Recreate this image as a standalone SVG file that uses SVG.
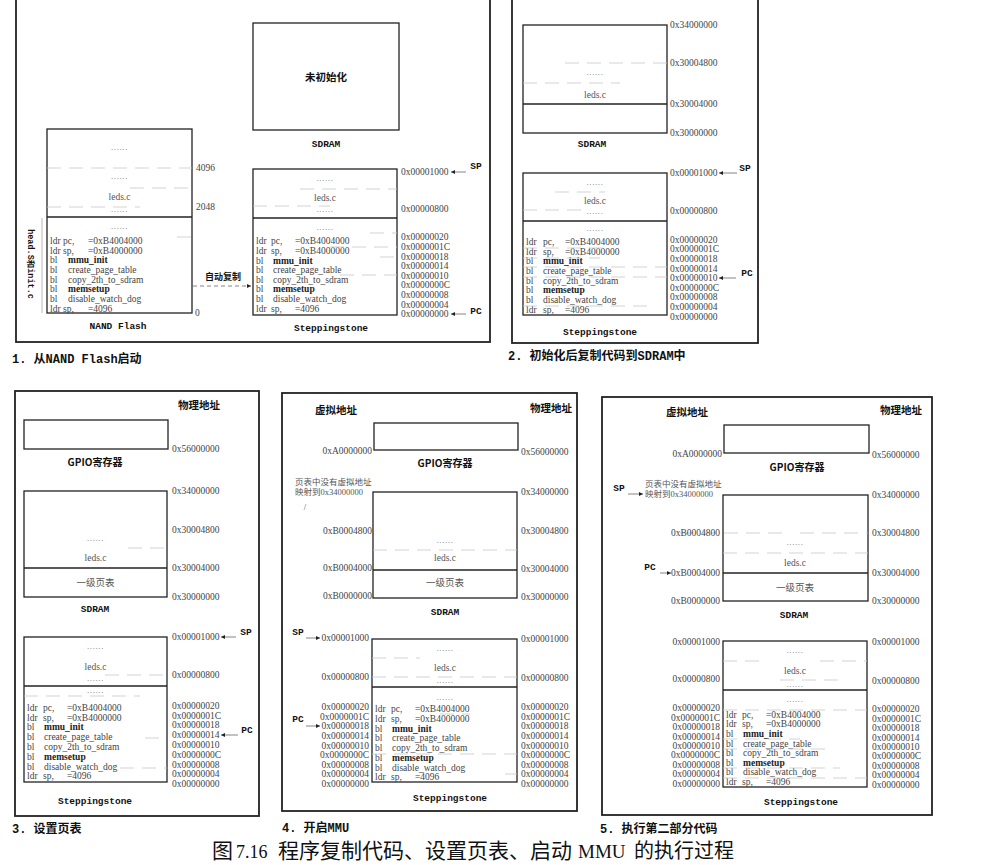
<svg xmlns="http://www.w3.org/2000/svg" width="988" height="865" viewBox="0 0 988 865">
<defs>
<style>
.frame{fill:none;stroke:#222;stroke-width:1.8}
.box{fill:#fff;stroke:#222;stroke-width:1.3}
.dv{stroke:#222;stroke-width:1.3}
.dash{stroke:#c8c8c8;stroke-width:0.8;stroke-dasharray:14 8;fill:none}
.thin{stroke:#999;stroke-width:0.7;fill:none}
.arr{stroke:#666;stroke-width:0.8;fill:none;marker-end:url(#ah)}
.addr{font-family:"Liberation Serif",serif;font-size:9.5px;fill:#444}
.al{font-family:"Liberation Serif",serif;font-size:9.5px;fill:#444;text-anchor:end}
.code{font-family:"Liberation Serif",serif;font-size:9.5px;fill:#444}
.cb{font-weight:bold;fill:#222}
.dots{font-family:"Liberation Serif",serif;font-size:9px;letter-spacing:0.6px;fill:#777;text-anchor:middle}
.in{font-family:"Liberation Serif","Noto Sans CJK SC",serif;font-size:9.5px;fill:#555;text-anchor:middle}
.lbl{font-family:"Liberation Mono","Noto Sans CJK SC",monospace;font-weight:bold;font-size:9.5px;fill:#111;text-anchor:middle}
.cjk{font-family:"Noto Sans CJK SC",sans-serif;font-weight:bold;font-size:10px;fill:#111}
.cap{font-family:"Liberation Mono","Noto Sans CJK SC",monospace;font-weight:bold;font-size:12px;fill:#111}
.note{font-family:"Liberation Serif","Noto Sans CJK SC",serif;font-size:8.5px;fill:#555}
.fig{font-family:"Liberation Serif","Noto Sans CJK SC",serif;font-size:21px;fill:#111}
</style>
<marker id="ah" viewBox="0 0 6 6" refX="6" refY="3" markerWidth="5" markerHeight="5" orient="auto"><path d="M0,0 L6,3 L0,6z" fill="#222"/></marker>
</defs>
<rect width="988" height="865" fill="#fff"/>

<!-- ================= PANEL 1 ================= -->
<g id="panel1">
<rect class="frame" x="16" y="-10" width="474" height="352"/>
<text class="cap" x="12" y="363">1. 从NAND Flash启动</text>
</g>

<g id="nand-flash">
<rect class="box" x="47" y="129" width="145" height="184"/>
<line class="dv" x1="47" y1="217" x2="192" y2="217"/>
<line class="thin" x1="42" y1="218" x2="42" y2="313"/>
<text class="dots" x="119.5" y="150">......</text>
<text class="dots" x="119.5" y="179">......</text>
<text class="in" x="119.5" y="200">leds.c</text>
<text class="dots" x="119.5" y="212">......</text>
<text class="dots" x="119.5" y="229">......</text>
<line class="dash" x1="47" y1="168" x2="192" y2="168"/>
<line class="dash" x1="130" y1="188" x2="192" y2="188"/>
<line class="dash" x1="47" y1="207" x2="140" y2="207"/>
<line class="dash" x1="177" y1="237" x2="192" y2="237"/>
<text class="addr" x="196" y="171">4096</text>
<text class="addr" x="196" y="210">2048</text>
<text class="addr" x="195" y="316">0</text>
<text class="code" y="243.8"><tspan x="50">ldr</tspan><tspan x="63">pc,</tspan><tspan x="88">=0xB4004000</tspan></text>
<text class="code" y="253.5"><tspan x="50">ldr</tspan><tspan x="63">sp,</tspan><tspan x="88">=0xB4000000</tspan></text>
<text class="code" y="263.2"><tspan x="50">bl</tspan><tspan x="68" class="cb">mmu_init</tspan></text>
<text class="code" y="272.9"><tspan x="50">bl</tspan><tspan x="68">create_page_table</tspan></text>
<text class="code" y="282.6"><tspan x="50">bl</tspan><tspan x="68">copy_2th_to_sdram</tspan></text>
<text class="code" y="292.3"><tspan x="50">bl</tspan><tspan x="68" class="cb">memsetup</tspan></text>
<text class="code" y="302.0"><tspan x="50">bl</tspan><tspan x="68">disable_watch_dog</tspan></text>
<text class="code" y="311.7"><tspan x="50">ldr</tspan><tspan x="63">sp,</tspan><tspan x="88">=4096</tspan></text>
<text class="lbl" x="118" y="329">NAND Flash</text>
<text class="lbl" transform="translate(28,264) rotate(90)" style="font-size:8.5px">head.S和init.c</text>
</g>

<g id="p1-sdram">
<rect class="box" x="253" y="23" width="146" height="107"/>
<text class="cjk" x="326" y="81" text-anchor="middle" style="font-size:10.5px">未初始化</text>
<text class="lbl" x="326" y="147">SDRAM</text>
</g>

<g id="p1-steppingstone">
<rect class="box" x="253" y="169" width="144" height="146"/>
<line class="dv" x1="253" y1="218" x2="397" y2="218"/>
<line class="dash" x1="300" y1="189" x2="397" y2="189"/>
<line class="dash" x1="253" y1="206" x2="330" y2="206"/>
<text class="dots" x="325" y="180.5">......</text>
<text class="in" x="325" y="201">leds.c</text>
<text class="dots" x="325" y="211.5">......</text>
<text class="dots" x="325" y="229.5">......</text>
<text class="code" y="244.3"><tspan x="256">ldr</tspan><tspan x="271">pc,</tspan><tspan x="295">=0xB4004000</tspan></text>
<text class="code" y="253.9"><tspan x="256">ldr</tspan><tspan x="271">sp,</tspan><tspan x="295">=0xB4000000</tspan></text>
<text class="code" y="263.5"><tspan x="256">bl</tspan><tspan x="273" class="cb">mmu_init</tspan></text>
<text class="code" y="273.1"><tspan x="256">bl</tspan><tspan x="273">create_page_table</tspan></text>
<text class="code" y="282.7"><tspan x="256">bl</tspan><tspan x="273">copy_2th_to_sdram</tspan></text>
<text class="code" y="292.3"><tspan x="256">bl</tspan><tspan x="273" class="cb">memsetup</tspan></text>
<text class="code" y="301.9"><tspan x="256">bl</tspan><tspan x="273">disable_watch_dog</tspan></text>
<text class="code" y="311.5"><tspan x="256">ldr</tspan><tspan x="271">sp,</tspan><tspan x="295">=4096</tspan></text>
<line class="dash" x1="370" y1="233" x2="397" y2="233"/>
<line class="dash" x1="330" y1="247" x2="397" y2="247"/>
<line class="dash" x1="380" y1="257" x2="397" y2="257"/>
<line class="dash" x1="340" y1="275" x2="397" y2="275"/>
<text class="addr" x="401" y="175.3">0x00001000</text>
<text class="addr" x="401" y="212.3">0x00000800</text>
<text class="addr" x="401" y="240.3">0x00000020</text>
<text class="addr" x="401" y="249.9">0x0000001C</text>
<text class="addr" x="401" y="259.5">0x00000018</text>
<text class="addr" x="401" y="269.1">0x00000014</text>
<text class="addr" x="401" y="278.7">0x00000010</text>
<text class="addr" x="401" y="288.3">0x0000000C</text>
<text class="addr" x="401" y="297.9">0x00000008</text>
<text class="addr" x="401" y="307.5">0x00000004</text>
<text class="addr" x="401" y="317.1">0x00000000</text>
<text class="lbl" x="476" y="169">SP</text>
<text class="lbl" x="476" y="314">PC</text>
<text class="lbl" x="331" y="331">Steppingstone</text>
</g>
<g id="p1-copy-label">
<text class="cjk" x="205" y="280" style="font-size:9px">自动复制</text>
</g>

<!-- ================= PANEL 2 ================= -->
<g id="panel2">
<rect class="frame" x="512" y="-10" width="246" height="353"/>
<text class="cap" x="508" y="360">2. 初始化后复制代码到SDRAM中</text>
</g>
<g id="p2-sdram">
<rect class="box" x="523" y="25" width="144" height="108"/>
<line class="dv" x1="523" y1="104" x2="667" y2="104"/>
<line class="dash" x1="565" y1="63" x2="667" y2="63"/>
<line class="dash" x1="523" y1="83" x2="620" y2="83"/>
<text class="dots" x="595" y="74.5">......</text>
<text class="in" x="595" y="98">leds.c</text>
<text class="addr" x="670" y="28.3">0x34000000</text>
<text class="addr" x="670" y="66.3">0x30004800</text>
<text class="addr" x="670" y="107.3">0x30004000</text>
<text class="addr" x="670" y="136.3">0x30000000</text>
<text class="lbl" x="592" y="147">SDRAM</text>
</g>
<g id="p2-steppingstone">
<rect class="box" x="523" y="173" width="144" height="142"/>
<line class="dv" x1="523" y1="221" x2="667" y2="221"/>
<line class="dash" x1="555" y1="192" x2="605" y2="192"/>
<line class="dash" x1="523" y1="210" x2="585" y2="210"/>
<text class="dots" x="595" y="184.5">......</text>
<text class="in" x="595" y="204">leds.c</text>
<text class="dots" x="595" y="213.5">......</text>
<text class="dots" x="595" y="230.5">......</text>
<text class="code" y="244.8"><tspan x="526">ldr</tspan><tspan x="543">pc,</tspan><tspan x="565">=0xB4004000</tspan></text>
<text class="code" y="254.5"><tspan x="526">ldr</tspan><tspan x="543">sp,</tspan><tspan x="565">=0xB4000000</tspan></text>
<text class="code" y="264.2"><tspan x="526">bl</tspan><tspan x="543" class="cb">mmu_init</tspan></text>
<text class="code" y="273.9"><tspan x="526">bl</tspan><tspan x="543">create_page_table</tspan></text>
<text class="code" y="283.6"><tspan x="526">bl</tspan><tspan x="543">copy_2th_to_sdram</tspan></text>
<text class="code" y="293.3"><tspan x="526">bl</tspan><tspan x="543" class="cb">memsetup</tspan></text>
<text class="code" y="303.0"><tspan x="526">bl</tspan><tspan x="543">disable_watch_dog</tspan></text>
<text class="code" y="312.7"><tspan x="526">ldr</tspan><tspan x="543">sp,</tspan><tspan x="565">=4096</tspan></text>
<line class="dash" x1="523" y1="248" x2="610" y2="248"/>
<line class="dash" x1="523" y1="258" x2="600" y2="258"/>
<line class="dash" x1="523" y1="267" x2="667" y2="267"/>
<line class="dash" x1="523" y1="277" x2="667" y2="277"/>
<line class="dash" x1="523" y1="306" x2="650" y2="306"/>
<text class="addr" x="670" y="176.3">0x00001000</text>
<text class="addr" x="670" y="214.3">0x00000800</text>
<text class="addr" x="670" y="242.8">0x00000020</text>
<text class="addr" x="670" y="252.4">0x0000001C</text>
<text class="addr" x="670" y="262.0">0x00000018</text>
<text class="addr" x="670" y="271.6">0x00000014</text>
<text class="addr" x="670" y="281.2">0x00000010</text>
<text class="addr" x="670" y="290.8">0x0000000C</text>
<text class="addr" x="670" y="300.4">0x00000008</text>
<text class="addr" x="670" y="310.0">0x00000004</text>
<text class="addr" x="670" y="319.6">0x00000000</text>
<text class="lbl" x="745" y="171">SP</text>
<text class="lbl" x="747" y="276">PC</text>
<text class="lbl" x="600" y="335">Steppingstone</text>
</g>

<!-- ================= PANEL 3 ================= -->
<g id="panel3">
<rect class="frame" x="15" y="391" width="244" height="425"/>
<text class="cjk" x="178" y="409" style="font-size:10.5px">物理地址</text>
<text class="cap" x="12" y="833">3. 设置页表</text>
</g>
<g id="p3-gpio">
<rect class="box" x="24" y="420" width="144" height="29"/>
<text class="addr" x="172" y="452.3">0x56000000</text>
<text class="cjk" x="95" y="466" text-anchor="middle">GPIO寄存器</text>
</g>
<g id="p3-sdram">
<rect class="box" x="24" y="491" width="143" height="106"/>
<line class="dv" x1="24" y1="568" x2="167" y2="568"/>
<line class="dash" x1="128" y1="548" x2="167" y2="548"/>
<text class="dots" x="95.5" y="540.5">......</text>
<text class="in" x="95.5" y="561">leds.c</text>
<text class="in" x="95.5" y="585.5">一级页表</text>
<text class="addr" x="172" y="494.3">0x34000000</text>
<text class="addr" x="172" y="533.3">0x30004800</text>
<text class="addr" x="172" y="571.3">0x30004000</text>
<text class="addr" x="172" y="600.3">0x30000000</text>
<text class="lbl" x="95" y="612">SDRAM</text>
</g>
<g id="p3-steppingstone">
<rect class="box" x="24" y="637" width="143" height="145"/>
<line class="dv" x1="24" y1="686" x2="167" y2="686"/>
<line class="dash" x1="105" y1="675" x2="167" y2="675"/>
<line class="dash" x1="24" y1="696" x2="140" y2="696"/>
<text class="dots" x="95.5" y="648.5">......</text>
<text class="in" x="95.5" y="670">leds.c</text>
<text class="dots" x="95.5" y="680.5">......</text>
<text class="dots" x="95.5" y="693">......</text>
<text class="code" y="710.8"><tspan x="27">ldr</tspan><tspan x="43">pc,</tspan><tspan x="67">=0xB4004000</tspan></text>
<text class="code" y="720.6"><tspan x="27">ldr</tspan><tspan x="43">sp,</tspan><tspan x="67">=0xB4000000</tspan></text>
<text class="code" y="730.4"><tspan x="27">bl</tspan><tspan x="44" class="cb">mmu_init</tspan></text>
<text class="code" y="740.2"><tspan x="27">bl</tspan><tspan x="44">create_page_table</tspan></text>
<text class="code" y="750.0"><tspan x="27">bl</tspan><tspan x="44">copy_2th_to_sdram</tspan></text>
<text class="code" y="759.8"><tspan x="27">bl</tspan><tspan x="44" class="cb">memsetup</tspan></text>
<text class="code" y="769.6"><tspan x="27">bl</tspan><tspan x="44">disable_watch_dog</tspan></text>
<text class="code" y="779.4"><tspan x="27">ldr</tspan><tspan x="43">sp,</tspan><tspan x="67">=4096</tspan></text>
<line class="dash" x1="145" y1="738" x2="167" y2="738"/>
<line class="dash" x1="120" y1="768" x2="167" y2="768"/>
<text class="addr" x="172" y="640">0x00001000</text>
<text class="addr" x="172" y="678.3">0x00000800</text>
<text class="addr" x="172" y="708.8">0x00000020</text>
<text class="addr" x="172" y="718.6">0x0000001C</text>
<text class="addr" x="172" y="728.4">0x00000018</text>
<text class="addr" x="172" y="738.2">0x00000014</text>
<text class="addr" x="172" y="748.0">0x00000010</text>
<text class="addr" x="172" y="757.8">0x0000000C</text>
<text class="addr" x="172" y="767.6">0x00000008</text>
<text class="addr" x="172" y="777.4">0x00000004</text>
<text class="addr" x="172" y="787.2">0x00000000</text>
<text class="lbl" x="246" y="635">SP</text>
<text class="lbl" x="247" y="733">PC</text>
<text class="lbl" x="95" y="804">Steppingstone</text>
</g>

<!-- ================= PANEL 4 ================= -->
<g id="panel4">
<rect class="frame" x="282" y="393" width="295" height="418"/>
<text class="cjk" x="315" y="414" style="font-size:10.5px">虚拟地址</text>
<text class="cjk" x="530" y="412" style="font-size:10.5px">物理地址</text>
<text class="note" x="295" y="485">页表中没有虚拟地址</text>
<text class="note" x="295" y="495">映射到0x34000000</text>
<line class="thin" x1="306" y1="504" x2="304" y2="510"/>
<text class="cap" x="282" y="832">4. 开启MMU</text>
</g>
<g id="p4-gpio">
<rect class="box" x="374" y="423" width="144" height="27"/>
<text class="al" x="372" y="454.3">0xA0000000</text>
<text class="addr" x="521" y="455.3">0x56000000</text>
<text class="cjk" x="445" y="467" text-anchor="middle">GPIO寄存器</text>
</g>
<g id="p4-sdram">
<rect class="box" x="373" y="492" width="144" height="106"/>
<line class="dv" x1="373" y1="570" x2="517" y2="570"/>
<line class="dash" x1="373" y1="550" x2="517" y2="550"/>
<text class="dots" x="445" y="542.5">......</text>
<text class="in" x="445" y="561">leds.c</text>
<text class="in" x="445" y="585.5">一级页表</text>
<text class="al" x="372" y="534.3">0xB0004800</text>
<text class="al" x="372" y="571.3">0xB0004000</text>
<text class="al" x="372" y="599.3">0xB0000000</text>
<text class="addr" x="521" y="495.3">0x34000000</text>
<text class="addr" x="521" y="534.3">0x30004800</text>
<text class="addr" x="521" y="572.3">0x30004000</text>
<text class="addr" x="521" y="600.3">0x30000000</text>
<text class="lbl" x="445" y="615">SDRAM</text>
</g>
<g id="p4-steppingstone">
<rect class="box" x="372" y="639" width="145" height="143"/>
<line class="dv" x1="372" y1="687" x2="517" y2="687"/>
<line class="dash" x1="372" y1="658" x2="420" y2="658"/>
<line class="dash" x1="372" y1="677" x2="517" y2="677"/>
<text class="dots" x="445" y="650.5">......</text>
<text class="in" x="445" y="671">leds.c</text>
<text class="dots" x="445" y="682.5">......</text>
<text class="dots" x="445" y="699.5">......</text>
<text class="code" y="712.3"><tspan x="375">ldr</tspan><tspan x="391">pc,</tspan><tspan x="415">=0xB4004000</tspan></text>
<text class="code" y="722.0"><tspan x="375">ldr</tspan><tspan x="391">sp,</tspan><tspan x="415">=0xB4000000</tspan></text>
<text class="code" y="731.7"><tspan x="375">bl</tspan><tspan x="392" class="cb">mmu_init</tspan></text>
<text class="code" y="741.4"><tspan x="375">bl</tspan><tspan x="392">create_page_table</tspan></text>
<text class="code" y="751.1"><tspan x="375">bl</tspan><tspan x="392">copy_2th_to_sdram</tspan></text>
<text class="code" y="760.8"><tspan x="375">bl</tspan><tspan x="392" class="cb">memsetup</tspan></text>
<text class="code" y="770.5"><tspan x="375">bl</tspan><tspan x="392">disable_watch_dog</tspan></text>
<text class="code" y="780.2"><tspan x="375">ldr</tspan><tspan x="391">sp,</tspan><tspan x="415">=4096</tspan></text>
<line class="dash" x1="440" y1="714" x2="470" y2="714"/>
<line class="dash" x1="372" y1="754" x2="517" y2="754"/>
<line class="dash" x1="505" y1="774" x2="517" y2="774"/>
<text class="al" x="369" y="641.3">0x00001000</text>
<text class="al" x="369" y="680.3">0x00000800</text>
<text class="al" x="369" y="710.3">0x00000020</text>
<text class="al" x="369" y="719.9">0x0000001C</text>
<text class="al" x="369" y="729.4">0x00000018</text>
<text class="al" x="369" y="739.0">0x00000014</text>
<text class="al" x="369" y="748.5">0x00000010</text>
<text class="al" x="369" y="758.1">0x0000000C</text>
<text class="al" x="369" y="767.6">0x00000008</text>
<text class="al" x="369" y="777.2">0x00000004</text>
<text class="al" x="369" y="786.7">0x00000000</text>
<text class="addr" x="521" y="642.3">0x00001000</text>
<text class="addr" x="521" y="681.3">0x00000800</text>
<text class="addr" x="521" y="710.3">0x00000020</text>
<text class="addr" x="521" y="719.9">0x0000001C</text>
<text class="addr" x="521" y="729.4">0x00000018</text>
<text class="addr" x="521" y="739.0">0x00000014</text>
<text class="addr" x="521" y="748.5">0x00000010</text>
<text class="addr" x="521" y="758.1">0x0000000C</text>
<text class="addr" x="521" y="767.6">0x00000008</text>
<text class="addr" x="521" y="777.2">0x00000004</text>
<text class="addr" x="521" y="786.7">0x00000000</text>
<text class="lbl" x="298" y="635">SP</text>
<text class="lbl" x="298" y="722">PC</text>
<text class="lbl" x="450" y="801">Steppingstone</text>
</g>

<!-- ================= PANEL 5 ================= -->
<g id="panel5">
<rect class="frame" x="602" y="397" width="330" height="418"/>
<text class="cjk" x="666" y="416" style="font-size:10.5px">虚拟地址</text>
<text class="cjk" x="880" y="414" style="font-size:10.5px">物理地址</text>
<text class="lbl" x="619" y="491">SP</text>
<text class="note" x="645" y="487">页表中没有虚拟地址</text>
<text class="note" x="645" y="497">映射到0x34000000</text>
<text class="cap" x="600" y="833">5. 执行第二部分代码</text>
</g>
<g id="p5-gpio">
<rect class="box" x="724" y="425" width="145" height="28"/>
<text class="al" x="722" y="457.3">0xA0000000</text>
<text class="addr" x="872" y="458.3">0x56000000</text>
<text class="cjk" x="797" y="471" text-anchor="middle">GPIO寄存器</text>
</g>
<g id="p5-sdram">
<rect class="box" x="723" y="495" width="145" height="106"/>
<line class="dv" x1="723" y1="573" x2="868" y2="573"/>
<line class="dash" x1="680" y1="533" x2="788" y2="533"/>
<line class="dash" x1="800" y1="533" x2="868" y2="533"/>
<line class="dash" x1="723" y1="553" x2="868" y2="553"/>
<text class="dots" x="795" y="544.5">......</text>
<text class="in" x="795" y="566">leds.c</text>
<text class="in" x="795" y="590.5">一级页表</text>
<text class="al" x="720" y="536.3">0xB0004800</text>
<text class="al" x="720" y="576.3">0xB0004000</text>
<text class="al" x="720" y="604.3">0xB0000000</text>
<text class="addr" x="872" y="498.3">0x34000000</text>
<text class="addr" x="872" y="536.3">0x30004800</text>
<text class="addr" x="872" y="576.3">0x30004000</text>
<text class="addr" x="872" y="604.3">0x30000000</text>
<text class="lbl" x="650" y="570">PC</text>
<text class="lbl" x="794" y="618">SDRAM</text>
</g>
<g id="p5-steppingstone">
<rect class="box" x="723" y="641" width="144" height="146"/>
<line class="dv" x1="723" y1="690" x2="867" y2="690"/>
<line class="dash" x1="723" y1="661" x2="760" y2="661"/>
<line class="dash" x1="820" y1="661" x2="867" y2="661"/>
<line class="dash" x1="780" y1="680" x2="840" y2="680"/>
<text class="dots" x="795" y="652.5">......</text>
<text class="in" x="795" y="674">leds.c</text>
<text class="dots" x="795" y="686.5">......</text>
<text class="dots" x="795" y="701.5">......</text>
<text class="code" y="717.8"><tspan x="726">ldr</tspan><tspan x="742">pc,</tspan><tspan x="766">=0xB4004000</tspan></text>
<text class="code" y="727.4"><tspan x="726">ldr</tspan><tspan x="742">sp,</tspan><tspan x="766">=0xB4000000</tspan></text>
<text class="code" y="737.0"><tspan x="726">bl</tspan><tspan x="743" class="cb">mmu_init</tspan></text>
<text class="code" y="746.6"><tspan x="726">bl</tspan><tspan x="743">create_page_table</tspan></text>
<text class="code" y="756.2"><tspan x="726">bl</tspan><tspan x="743">copy_2th_to_sdram</tspan></text>
<text class="code" y="765.8"><tspan x="726">bl</tspan><tspan x="743" class="cb">memsetup</tspan></text>
<text class="code" y="775.4"><tspan x="726">bl</tspan><tspan x="743">disable_watch_dog</tspan></text>
<text class="code" y="785.0"><tspan x="726">ldr</tspan><tspan x="742">sp,</tspan><tspan x="766">=4096</tspan></text>
<line class="dash" x1="723" y1="710" x2="867" y2="710"/>
<line class="dash" x1="723" y1="739" x2="800" y2="739"/>
<line class="dash" x1="723" y1="749" x2="830" y2="749"/>
<line class="dash" x1="723" y1="768" x2="840" y2="768"/>
<line class="dash" x1="723" y1="778" x2="867" y2="778"/>
<text class="al" x="720" y="645.3">0x00001000</text>
<text class="al" x="720" y="682.3">0x00000800</text>
<text class="al" x="720" y="711.3">0x00000020</text>
<text class="al" x="720" y="720.7">0x0000001C</text>
<text class="al" x="720" y="730.1">0x00000018</text>
<text class="al" x="720" y="739.5">0x00000014</text>
<text class="al" x="720" y="748.9">0x00000010</text>
<text class="al" x="720" y="758.3">0x0000000C</text>
<text class="al" x="720" y="767.7">0x00000008</text>
<text class="al" x="720" y="777.1">0x00000004</text>
<text class="al" x="720" y="786.5">0x00000000</text>
<text class="addr" x="872" y="645.3">0x00001000</text>
<text class="addr" x="872" y="684.3">0x00000800</text>
<text class="addr" x="872" y="712.3">0x00000020</text>
<text class="addr" x="872" y="721.7">0x0000001C</text>
<text class="addr" x="872" y="731.1">0x00000018</text>
<text class="addr" x="872" y="740.5">0x00000014</text>
<text class="addr" x="872" y="749.9">0x00000010</text>
<text class="addr" x="872" y="759.3">0x0000000C</text>
<text class="addr" x="872" y="768.7">0x00000008</text>
<text class="addr" x="872" y="778.1">0x00000004</text>
<text class="addr" x="872" y="787.5">0x00000000</text>
<text class="lbl" x="801" y="805">Steppingstone</text>
</g>

<!-- ================= CONNECTORS ================= -->
<g id="connectors">
<line class="arr" x1="193" y1="286" x2="251" y2="286" style="stroke-dasharray:4 3"/>
<line class="arr" x1="466" y1="172" x2="451" y2="172"/>
<line class="arr" x1="466" y1="314" x2="451" y2="314"/>
<line class="arr" x1="737" y1="173" x2="719" y2="173"/>
<line class="arr" x1="736" y1="278" x2="719" y2="278"/>
<line class="arr" x1="236" y1="637" x2="221" y2="637"/>
<line class="arr" x1="238" y1="735" x2="221" y2="735"/>
<line class="arr" x1="306" y1="638" x2="320" y2="638"/>
<line class="arr" x1="306" y1="726" x2="320" y2="726"/>
<line class="arr" x1="628" y1="494" x2="643" y2="494"/>
<line class="arr" x1="660" y1="573" x2="671" y2="573"/>
</g>

<g id="figure-caption">
<text class="fig" y="858"><tspan x="212">图</tspan><tspan x="236" style="font-size:18px">7.16</tspan><tspan x="278">程序复制代码、设置页表、启动</tspan><tspan x="578" style="font-size:19px">MMU</tspan><tspan x="634" style="font-size:20px">的执行过程</tspan></text>
</g>
</svg>
